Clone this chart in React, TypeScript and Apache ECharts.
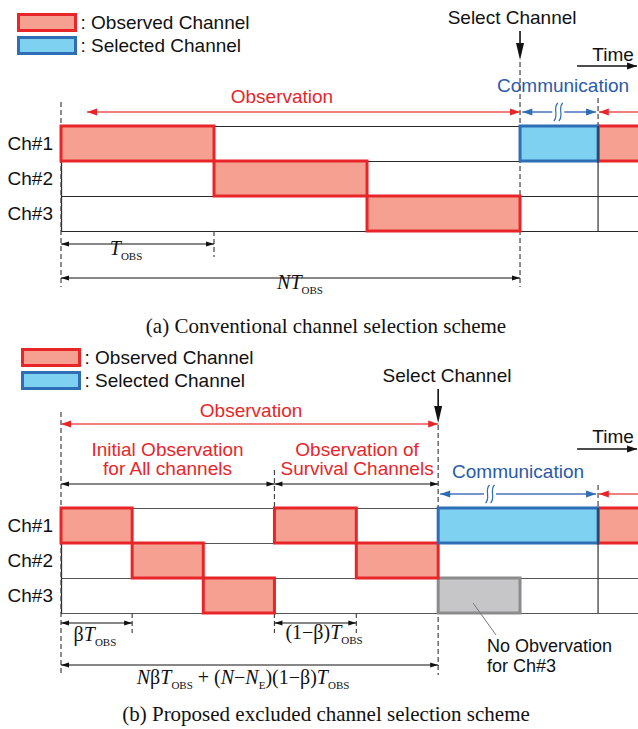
import React, { useEffect, useRef } from 'react';
import * as echarts from 'echarts';

// ---------- data (time in units of T_OBS, rows = channel index) ----------
const channels = ['Ch#1', 'Ch#2', 'Ch#3'];
const timeMax = 3.771;
const beta = 0.465;
const commEnd = 3.51;

// (a) conventional scheme
const convObsRow = [0, 1, 2, 0];
const convObsStart = [0, 1, 2, 3.51];
const convObsEnd = [1, 2, 3, 4.0];
const convSelRow = [0];
const convSelStart = [3];
const convSelEnd = [3.51];

// (b) proposed scheme
const propObsRow = [0, 1, 2, 0, 1, 0];
const propObsStart = [0, 0.465, 0.93, 1.395, 1.93, 3.51];
const propObsEnd = [0.465, 0.93, 1.395, 1.93, 2.465, 4.0];
const propSelRow = [0];
const propSelStart = [2.465];
const propSelEnd = [3.51];
const propSkipRow = [2];
const propSkipStart = [2.465];
const propSkipEnd = [3.0];

// ---------- styles ----------
const SANS = '"Liberation Sans", Arial, Helvetica, sans-serif';
const SERIF = '"Liberation Serif", "Times New Roman", serif';
const RED = '#E8262A';
const RED_LINE = '#EE5555';
const RED_FILL = '#F6A091';
const BLUE = '#2F6DB5';
const BLUE_LINE = '#4672BE';
const BLUE_TEXT = '#2A5BAA';
const BLUE_FILL = '#7ED1F0';
const GREY = '#8C8C8C';
const GREY_FILL = '#C6C6C8';
const INK = '#111111';

const RICH: any = {
  i: { fontFamily: SERIF, fontStyle: 'italic', fontSize: 20, lineHeight: 20, padding: [0, 0, 16, 0], fill: INK },
  m: { fontFamily: SERIF, fontSize: 20, lineHeight: 20, padding: [0, 0, 16, 0], fill: INK },
  s: { fontFamily: SERIF, fontSize: 11, lineHeight: 11, fill: INK },
};

type HA = { t1: number; t2: number; r: number; color: string; line?: string; h1?: boolean; h2?: boolean; sq?: number; lw?: number; L?: number; W?: number };
type VL = { t: number; r1: number; r2: number };
type TX = { t: number; r: number; text: string; color?: string; size?: number; family?: string; align?: string; lh?: number };
type Panel = {
  arrows: HA[];
  dashed: VL[];
  solid: VL[];
  texts: TX[];
  math: { t: number; r: number; text: string }[];
  select: VL;
  leaders: { t1: number; r1: number; t2: number; r2: number }[];
};

const panelA: Panel = {
  arrows: [
    { t1: 0.17, t2: 3.0, r: -0.4, color: RED, line: RED_LINE, h1: true, h2: true },
    { t1: 3.015, t2: 3.497, r: -0.4, color: BLUE, line: BLUE_LINE, h1: true, h2: true, sq: 3.25 },
    { t1: commEnd + 0.005, t2: 3.9, r: -0.4, color: RED, line: RED_LINE, h1: true },
    { t1: 3.373, t2: 3.765, r: -1.714, color: INK, h2: true, lw: 1.4 },
    { t1: 0, t2: 1, r: 3.371, color: INK, h1: true, h2: true, lw: 1.1, L: 8, W: 2.5 },
    { t1: 0, t2: 3, r: 4.343, color: INK, h1: true, h2: true, lw: 1.1, L: 8, W: 2.5 },
  ],
  dashed: [
    { t: 0, r1: -0.686, r2: 4.6 },
    { t: 1, r1: 3, r2: 3.743 },
    { t: 3, r1: -1.83, r2: 4.6 },
    { t: commEnd, r1: -0.8, r2: 0 },
  ],
  solid: [{ t: commEnd, r1: 0, r2: 3 }],
  texts: [
    { t: 2.948, r: -3.114, text: 'Select Channel' },
    { t: 3.608, r: -2.057, text: 'Time' },
    { t: 3.281, r: -1.143, text: 'Communication', color: BLUE_TEXT },
    { t: 1.444, r: -0.829, text: 'Observation', color: RED },
    { t: 1.732, r: 5.711, text: '(a) Conventional channel selection scheme', family: SERIF, size: 21 },
  ],
  math: [
    { t: 0.425, r: 3.721, text: '{i|T}{s|OBS}' },
    { t: 1.562, r: 4.693, text: '{i|NT}{s|OBS}' },
  ],
  select: { t: 3, r1: -2.714, r2: -1.886 },
  leaders: [],
};

const panelB: Panel = {
  arrows: [
    { t1: 0, t2: 2.465, r: -2.4, color: RED, line: RED_LINE, h1: true, h2: true },
    { t1: 0, t2: 1.395, r: -0.686, color: INK, h1: true, h2: true, lw: 1.1, L: 8, W: 2.5 },
    { t1: 1.395, t2: 2.465, r: -0.686, color: INK, h1: true, h2: true, lw: 1.1, L: 8, W: 2.5 },
    { t1: 2.478, t2: 3.497, r: -0.4, color: BLUE, line: BLUE_LINE, h1: true, h2: true, sq: 2.804 },
    { t1: commEnd + 0.005, t2: 3.9, r: -0.4, color: RED, line: RED_LINE, h1: true },
    { t1: 3.373, t2: 3.765, r: -1.686, color: INK, h2: true, lw: 1.4 },
    { t1: 0, t2: 0.465, r: 3.286, color: INK, h1: true, h2: true, lw: 1.1, L: 8, W: 2.5 },
    { t1: 1.395, t2: 1.93, r: 3.286, color: INK, h1: true, h2: true, lw: 1.1, L: 8, W: 2.5 },
    { t1: 0, t2: 2.465, r: 4.486, color: INK, h1: true, h2: true, lw: 1.1, L: 8, W: 2.5 },
  ],
  dashed: [
    { t: 0, r1: -2.743, r2: 4.771 },
    { t: 1.395, r1: -1.086, r2: 0 },
    { t: 1.395, r1: 3, r2: 3.571 },
    { t: 2.465, r1: -2.37, r2: 4.771 },
    { t: commEnd, r1: -0.657, r2: 0 },
    { t: 0.465, r1: 3, r2: 3.571 },
    { t: 1.93, r1: 3, r2: 3.571 },
  ],
  solid: [{ t: commEnd, r1: 0, r2: 3 }],
  texts: [
    { t: 2.523, r: -3.8, text: 'Select Channel' },
    { t: 3.608, r: -2.029, text: 'Time' },
    { t: 1.242, r: -2.8, text: 'Observation', color: RED },
    { t: 0.696, r: -1.414, text: 'Initial Observation\nfor All channels', color: RED, lh: 19 },
    { t: 1.935, r: -1.414, text: 'Observation of\nSurvival Channels', color: RED, lh: 19 },
    { t: 2.987, r: -1.029, text: 'Communication', color: BLUE_TEXT },
    { t: 2.784, r: 4.229, text: 'No Obvervation\nfor Ch#3', align: 'left', lh: 20, size: 18 },
    { t: 1.732, r: 5.883, text: '(b) Proposed excluded channel selection scheme', family: SERIF, size: 21 },
  ],
  math: [
    { t: 0.222, r: 3.836, text: '{m|β}{i|T}{s|OBS}' },
    { t: 1.719, r: 3.779, text: '{m|(1−β)}{i|T}{s|OBS}' },
    { t: 1.19, r: 5.064, text: '{i|N}{m|β}{i|T}{s|OBS}{m| + (}{i|N}{m|−}{i|N}{s|E}{m|)(1−β)}{i|T}{s|OBS}' },
  ],
  select: { t: 2.465, r1: -3.4, r2: -2.429 },
  leaders: [{ t1: 2.693, r1: 2.714, t2: 2.843, r2: 3.629 }],
};

function seg(x1: number, y1: number, x2: number, y2: number, stroke: string, lineWidth: number, dash?: number[]) {
  return { type: 'line', shape: { x1, y1, x2, y2 }, style: { stroke, lineWidth, lineDash: dash } };
}

function head(x: number, y: number, dir: string, color: string, L: number, W: number) {
  let pts: number[][];
  if (dir === 'l') pts = [[x, y], [x + L, y - W], [x + L, y + W]];
  else if (dir === 'r') pts = [[x, y], [x - L, y - W], [x - L, y + W]];
  else pts = [[x, y], [x - W, y - L], [x + W, y - L]];
  return { type: 'polygon', shape: { points: pts }, style: { fill: color } };
}

function makeDashes(p: Panel) {
  return (params: any, api: any) => {
    if (params.dataIndex !== 0) return null;
    const children = p.dashed.map((d) => {
      const a = api.coord([d.t, d.r1]);
      const b = api.coord([d.t, d.r2]);
      return seg(a[0], a[1], b[0], b[1], '#444', 1.2, [5, 3]);
    });
    return { type: 'group', children };
  };
}

function makeAnnot(p: Panel) {
  return (params: any, api: any) => {
    if (params.dataIndex !== 0) return null;
    const C = (t: number, r: number) => api.coord([t, r]);
    const ch: any[] = [];
    for (const s of p.solid) {
      const a = C(s.t, s.r1);
      const b = C(s.t, s.r2);
      ch.push(seg(a[0], a[1], b[0], b[1], '#333', 1.2));
    }
    for (const a of p.arrows) {
      const p1 = C(a.t1, a.r);
      const x1 = p1[0];
      const y = p1[1];
      const x2 = C(a.t2, a.r)[0];
      const lw = a.lw ?? 1.5;
      const lc = a.line ?? a.color;
      const L = a.L ?? 10;
      const W = a.W ?? 3.5;
      if (a.sq != null) {
        const xc = C(a.sq, a.r)[0];
        ch.push(seg(x1, y, xc - 6, y, lc, lw), seg(xc + 6, y, x2, y, lc, lw));
        for (const dx of [-2.5, 2.5]) {
          ch.push({
            type: 'bezierCurve',
            shape: { x1: xc + dx + 2, y1: y - 9, cpx1: xc + dx - 3.5, cpy1: y - 4, cpx2: xc + dx + 3.5, cpy2: y + 4, x2: xc + dx - 2, y2: y + 9 },
            style: { stroke: a.color, lineWidth: 1.2, fill: 'none' },
          });
        }
      } else {
        ch.push(seg(x1, y, x2, y, lc, lw));
      }
      if (a.h1) ch.push(head(x1, y, 'l', a.color, L, W));
      if (a.h2) ch.push(head(x2, y, 'r', a.color, L, W));
    }
    {
      const s = p.select;
      const a = C(s.t, s.r1);
      const b = C(s.t, s.r2);
      ch.push(seg(a[0], a[1], b[0], b[1] - 14, INK, 1.6));
      ch.push(head(b[0], b[1], 'd', INK, 17, 4));
    }
    for (const l of p.leaders) {
      const a = C(l.t1, l.r1);
      const b = C(l.t2, l.r2);
      ch.push(seg(a[0], a[1], b[0], b[1], '#777', 1));
    }
    for (const t of p.texts) {
      const q = C(t.t, t.r);
      ch.push({
        type: 'text',
        x: q[0],
        y: q[1],
        style: {
          text: t.text,
          fill: t.color ?? INK,
          fontSize: t.size ?? 19,
          fontFamily: t.family ?? SANS,
          align: t.align ?? 'center',
          verticalAlign: 'middle',
          lineHeight: t.lh,
        },
      });
    }
    for (const m of p.math) {
      const q = C(m.t, m.r);
      ch.push({
        type: 'text',
        x: q[0],
        y: q[1] - 10,
        style: { text: m.text, rich: RICH, fill: INK, fontFamily: SERIF, fontSize: 20, align: 'center', verticalAlign: 'top' },
      });
    }
    return { type: 'group', children: ch };
  };
}

function blockItem(params: any, api: any) {
  const s = api.value(0);
  const e = api.value(1);
  const row = api.value(2);
  const p0 = api.coord([s, row]);
  const p1 = api.coord([e, row + 1]);
  const st = api.style();
  return {
    type: 'rect',
    shape: { x: p0[0], y: p0[1], width: p1[0] - p0[0], height: p1[1] - p0[1] },
    style: { fill: st.fill, stroke: st.stroke, lineWidth: 3 },
  };
}

const zip = (st: number[], en: number[], rw: number[]) => st.map((s, i) => [s, en[i], rw[i]]);

function blockSeries(name: string, gi: number, data: number[][], fill: string, border: string) {
  return {
    type: 'custom',
    name,
    xAxisIndex: gi,
    yAxisIndex: gi * 2,
    encode: { x: [0, 1], y: 2 },
    data,
    renderItem: blockItem,
    itemStyle: { color: fill, borderColor: border, borderWidth: 3 },
    silent: true,
    clip: false,
  };
}

function legendFor(left: number, top: number) {
  return {
    left,
    top,
    orient: 'vertical',
    itemWidth: 57,
    itemHeight: 16,
    itemGap: 4,
    selectedMode: false,
    formatter: ': {name}',
    textStyle: { fontSize: 19, fontFamily: SANS, color: INK },
    data: [
      { name: 'Observed Channel', icon: 'rect', itemStyle: { color: RED_FILL, borderColor: RED, borderWidth: 3 } },
      { name: 'Selected Channel', icon: 'rect', itemStyle: { color: BLUE_FILL, borderColor: BLUE, borderWidth: 3 } },
    ],
  };
}

function buildOption(): any {
  const grids = [
    { left: 61, top: 126, width: 577, height: 105, outerBoundsMode: 'none' },
    { left: 61, top: 508, width: 577, height: 105, outerBoundsMode: 'none' },
  ];
  const xAxis = [0, 1].map((gi) => ({ type: 'value', gridIndex: gi, min: 0, max: timeMax, show: false }));
  const yAxis: any[] = [];
  [0, 1].forEach((gi) => {
    const lc = gi === 0 ? '#2a2a2a' : '#555';
    yAxis.push({
      type: 'value',
      gridIndex: gi,
      min: 0,
      max: 3,
      interval: 1,
      inverse: true,
      position: 'left',
      axisLabel: { show: false },
      axisTick: { show: false },
      axisLine: { show: true, onZero: false, lineStyle: { color: '#2a2a2a', width: 1.3 } },
      splitLine: { show: true, lineStyle: { color: lc, width: 1.2 } },
    });
    yAxis.push({
      type: 'category',
      gridIndex: gi,
      data: channels,
      inverse: true,
      position: 'left',
      axisLine: { show: false },
      axisTick: { show: false },
      splitLine: { show: false },
      axisLabel: { fontSize: 19, fontFamily: SANS, color: INK, margin: 8 },
    });
  });
  const annotBase = (gi: number, fn: any, z: number) => ({
    type: 'custom',
    xAxisIndex: gi,
    yAxisIndex: gi * 2,
    data: [[0, 0]],
    renderItem: fn,
    silent: true,
    clip: false,
    z,
  });
  return {
    animation: false,
    backgroundColor: '#ffffff',
    grid: grids,
    xAxis,
    yAxis,
    legend: [legendFor(12, 8), legendFor(16, 343)],
    series: [
      annotBase(0, makeDashes(panelA), 1),
      annotBase(1, makeDashes(panelB), 1),
      { ...blockSeries('Observed Channel', 0, zip(convObsStart, convObsEnd, convObsRow), RED_FILL, RED), z: 2 },
      { ...blockSeries('Selected Channel', 0, zip(convSelStart, convSelEnd, convSelRow), BLUE_FILL, BLUE), z: 2 },
      { ...blockSeries('Not Observed', 1, zip(propSkipStart, propSkipEnd, propSkipRow), GREY_FILL, GREY), z: 2 },
      { ...blockSeries('Observed Channel', 1, zip(propObsStart, propObsEnd, propObsRow), RED_FILL, RED), z: 2 },
      { ...blockSeries('Selected Channel', 1, zip(propSelStart, propSelEnd, propSelRow), BLUE_FILL, BLUE), z: 2 },
      annotBase(0, makeAnnot(panelA), 3),
      annotBase(1, makeAnnot(panelB), 3),
    ],
  };
}

export default function App() {
  const ref = useRef<HTMLDivElement>(null);
  useEffect(() => {
    const chart = echarts.init(ref.current!, null, { renderer: 'svg' });
    chart.setOption(buildOption());
    return () => chart.dispose();
  }, []);
  return (
    <div
      ref={ref}
      style={{ position: 'absolute', left: 0, top: 0, width: 638, height: 729, background: '#fff' }}
    />
  );
}
